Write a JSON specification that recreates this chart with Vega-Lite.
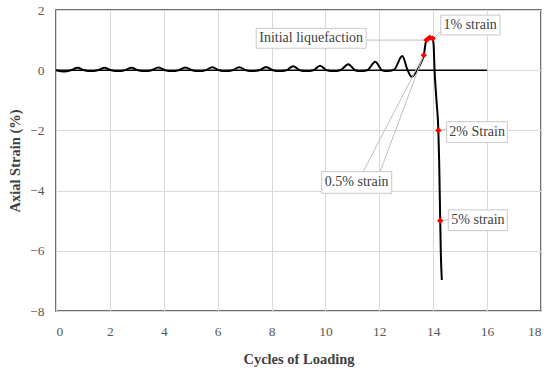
{
  "$schema": "https://vega.github.io/schema/vega-lite/v6.json",
  "width": 485,
  "height": 301,
  "autosize": "none",
  "padding": {"left": 56, "top": 10, "right": 9, "bottom": 60},
  "config": {
    "font": "Liberation Serif",
    "view": {"stroke": "#404040", "strokeWidth": 1.5},
    "axis": {"gridColor": "#d9d9d9", "gridWidth": 1, "domain": false, "ticks": false, "labelColor": "#595959", "labelFontSize": 13.5, "titleColor": "#404040", "titleFontSize": 14.5, "titleFontWeight": "bold", "labelFont": "Liberation Serif", "titleFont": "Liberation Serif"}
  },
  "datasets": {
    "curve": [
      {"x": 0, "y": 0}, {"x": 0.3, "y": -0.04}, {"x": 0.55, "y": 0.0}, {"x": 0.8, "y": 0.08}, {"x": 1.05, "y": 0.0},
      {"x": 1.3, "y": -0.03}, {"x": 1.55, "y": 0.0}, {"x": 1.8, "y": 0.08}, {"x": 2.05, "y": 0.0},
      {"x": 2.3, "y": -0.03}, {"x": 2.55, "y": 0.0}, {"x": 2.8, "y": 0.08}, {"x": 3.05, "y": 0.0},
      {"x": 3.3, "y": -0.03}, {"x": 3.55, "y": 0.0}, {"x": 3.8, "y": 0.09}, {"x": 4.05, "y": 0.0},
      {"x": 4.3, "y": -0.03}, {"x": 4.55, "y": 0.0}, {"x": 4.8, "y": 0.09}, {"x": 5.05, "y": 0.0},
      {"x": 5.3, "y": -0.03}, {"x": 5.55, "y": 0.0}, {"x": 5.8, "y": 0.1}, {"x": 6.05, "y": 0.0},
      {"x": 6.3, "y": -0.03}, {"x": 6.55, "y": 0.0}, {"x": 6.8, "y": 0.1}, {"x": 7.05, "y": 0.0},
      {"x": 7.3, "y": -0.03}, {"x": 7.55, "y": 0.0}, {"x": 7.8, "y": 0.11}, {"x": 8.05, "y": 0.0},
      {"x": 8.3, "y": -0.03}, {"x": 8.55, "y": 0.0}, {"x": 8.8, "y": 0.13}, {"x": 9.05, "y": 0.0},
      {"x": 9.3, "y": -0.03}, {"x": 9.55, "y": 0.0}, {"x": 9.8, "y": 0.15}, {"x": 10.05, "y": 0.0},
      {"x": 10.3, "y": -0.03}, {"x": 10.55, "y": 0.0}, {"x": 10.85, "y": 0.2}, {"x": 11.1, "y": 0.0},
      {"x": 11.3, "y": -0.03}, {"x": 11.55, "y": 0.0}, {"x": 11.85, "y": 0.28}, {"x": 12.1, "y": 0.0},
      {"x": 12.3, "y": -0.03}, {"x": 12.55, "y": 0.02}, {"x": 12.85, "y": 0.47}, {"x": 13.05, "y": 0.0},
      {"x": 13.2, "y": -0.22}, {"x": 13.4, "y": 0.0}, {"x": 13.55, "y": 0.25}, {"x": 13.65, "y": 0.5},
      {"x": 13.73, "y": 0.95}, {"x": 13.85, "y": 1.1}, {"x": 13.95, "y": 1.1}, {"x": 14.01, "y": 0.9},
      {"x": 14.05, "y": 0.0}, {"x": 14.12, "y": -1.0}, {"x": 14.19, "y": -2.0}, {"x": 14.22, "y": -3.0},
      {"x": 14.24, "y": -4.0}, {"x": 14.26, "y": -5.0}, {"x": 14.28, "y": -6.0}, {"x": 14.31, "y": -6.8},
      {"x": 14.32, "y": -6.97}
    ],
    "zero": [{"x": 0, "y": 0}, {"x": 16, "y": 0}],
    "points": [
      {"x": 13.65, "y": 0.5}, {"x": 13.75, "y": 1.0}, {"x": 13.87, "y": 1.08}, {"x": 13.98, "y": 1.05},
      {"x": 14.19, "y": -2.0}, {"x": 14.26, "y": -5.0}
    ],
    "leaders": [
      {"x": 11.51, "y": 1.0, "x2": 13.72, "y2": 1.0},
      {"x": 14.3, "y": 1.3, "x2": 13.98, "y2": 1.03},
      {"x": 14.5, "y": -1.95, "x2": 14.22, "y2": -2.0},
      {"x": 14.56, "y": -4.97, "x2": 14.29, "y2": -5.0},
      {"x": 11.4, "y": -3.37, "x2": 13.6, "y2": 0.42},
      {"x": 12.03, "y": -3.37, "x2": 13.63, "y2": 0.47}
    ],
    "labels": [
      {"label": "Initial liquefaction", "x": 9.47, "y": 1.06, "x1": 7.43, "x2": 11.51, "y1": 1.39, "y2": 0.73},
      {"label": "1% strain", "x": 15.37, "y": 1.5, "x1": 14.28, "x2": 16.48, "y1": 1.83, "y2": 1.17},
      {"label": "2% Strain", "x": 15.63, "y": -2.05, "x1": 14.5, "x2": 16.75, "y1": -1.71, "y2": -2.4},
      {"label": "0.5% strain", "x": 11.16, "y": -3.73, "x1": 9.86, "x2": 12.46, "y1": -3.37, "y2": -4.09},
      {"label": "5% strain", "x": 15.66, "y": -4.99, "x1": 14.56, "x2": 16.75, "y1": -4.64, "y2": -5.33}
    ]
  },
  "layer": [
    {
      "data": {"name": "zero"},
      "mark": {"type": "line", "color": "black", "strokeWidth": 1.5},
      "encoding": {
        "x": {"field": "x", "type": "quantitative", "scale": {"domain": [0, 18], "nice": false}, "axis": {"values": [0, 2, 4, 6, 8, 10, 12, 14, 16, 18], "title": "Cycles of Loading", "labelPadding": 13, "titlePadding": 15}},
        "y": {"field": "y", "type": "quantitative", "scale": {"domain": [-8, 2], "nice": false}, "axis": {"values": [-8, -6, -4, -2, 0, 2], "title": "Axial Strain (%)", "labelPadding": 12, "titlePadding": 7}}
      }
    },
    {
      "data": {"name": "curve"},
      "mark": {"type": "line", "color": "black", "strokeWidth": 2, "interpolate": "monotone"},
      "encoding": {
        "x": {"field": "x", "type": "quantitative"},
        "y": {"field": "y", "type": "quantitative"}
      }
    },
    {
      "data": {"name": "leaders"},
      "mark": {"type": "rule", "color": "#bfbfbf", "strokeWidth": 1},
      "encoding": {
        "x": {"field": "x", "type": "quantitative"},
        "y": {"field": "y", "type": "quantitative"},
        "x2": {"field": "x2"},
        "y2": {"field": "y2"}
      }
    },
    {
      "data": {"name": "labels"},
      "mark": {"type": "rect", "fill": "white", "stroke": "#c8c8c8", "strokeWidth": 1},
      "encoding": {
        "x": {"field": "x1", "type": "quantitative"},
        "x2": {"field": "x2"},
        "y": {"field": "y1", "type": "quantitative"},
        "y2": {"field": "y2"}
      }
    },
    {
      "data": {"name": "points"},
      "mark": {"type": "point", "shape": "diamond", "filled": true, "color": "red", "size": 40, "opacity": 1},
      "encoding": {
        "x": {"field": "x", "type": "quantitative"},
        "y": {"field": "y", "type": "quantitative"}
      }
    },
    {
      "data": {"name": "labels"},
      "mark": {"type": "text", "font": "Liberation Serif", "fontSize": 14, "color": "#404040", "align": "center", "baseline": "middle"},
      "encoding": {
        "x": {"field": "x", "type": "quantitative"},
        "y": {"field": "y", "type": "quantitative"},
        "text": {"field": "label"}
      }
    }
  ]
}
